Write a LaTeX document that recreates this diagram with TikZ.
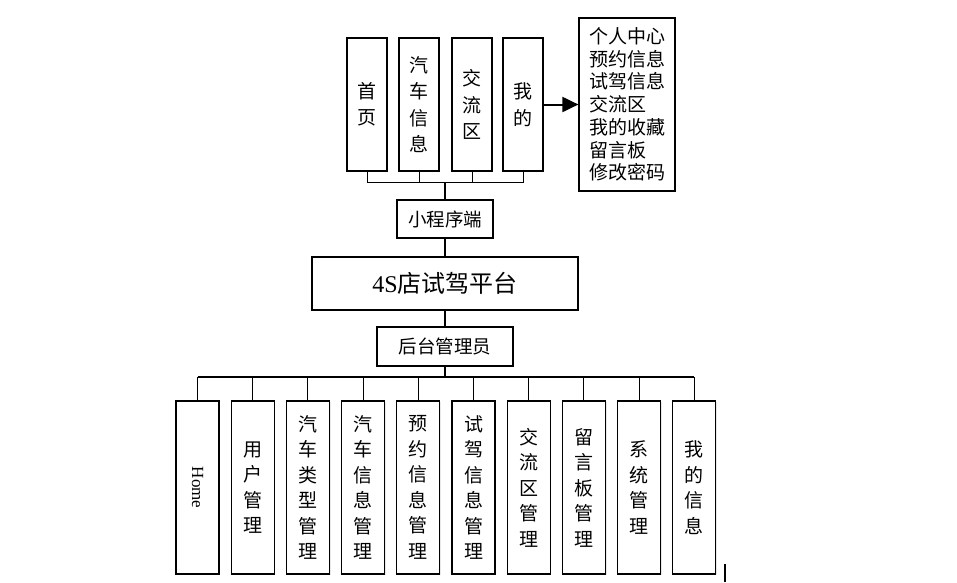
\documentclass[tikz,border=0pt]{standalone}
\usepackage{fontspec}
\setmainfont{Liberation Serif}
\newfontfamily\cjk{Noto Sans CJK SC}
\usetikzlibrary{arrows.meta,shadows}

\begin{document}
\begin{tikzpicture}[x=1pt,y=-1pt,
    box/.style={draw, line width=1.2pt, fill=white, inner sep=0pt, align=center,
        drop shadow={opacity=0.18, shadow xshift=1.2pt, shadow yshift=-1.2pt}},
    topbox/.style={box, minimum width=40pt, minimum height=133pt,
        font=\cjk\fontsize{19}{26.5}\selectfont},
    modbox/.style={box, minimum width=43pt, minimum height=173pt,
        font=\cjk\fontsize{19}{25.5}\selectfont},
    wire/.style={line width=1pt},
    trunk/.style={line width=1.6pt}]
\useasboundingbox (0,0) rectangle (957,582);

% Mini program pages (top row)
\node[topbox] (shouye) at (367,104.5) {首\\页};
\node[topbox] (qiche)  at (419,104.5) {汽\\车\\信\\息};
\node[topbox] (jiaoliu) at (472,104.5) {交\\流\\区};
\node[topbox] (wode)   at (523,104.5) {我\\的};

% Personal centre list
\node[box, minimum width=96pt, minimum height=173pt, align=left,
      font=\cjk\fontsize{19}{22.7}\selectfont] (geren) at (627,104.5)
      {个人中心\\预约信息\\试驾信息\\交流区\\我的收藏\\留言板\\修改密码};
\draw[line width=2pt, -{Triangle[length=16pt,width=15pt]}] (wode.east) -- (geren.west);

% Middle column
\node[box, minimum width=96pt, minimum height=38pt,
      font=\cjk\fontsize{18.5}{22}\selectfont] (mini) at (445,219) {小程序端};
\node[box, minimum width=266pt, minimum height=53pt,
      font=\fontsize{24}{28}\selectfont] (platform) at (445,283.5) {4S{\cjk 店试驾平台}};
\node[box, minimum width=136pt, minimum height=39pt,
      font=\cjk\fontsize{18.5}{22}\selectfont] (admin) at (445,346.5) {后台管理员};

% Top bus
\coordinate (topbus) at (445,182);
\draw[wire] (shouye.south) |- (wode.south |- topbus) -- (wode.south);
\draw[wire] (qiche.south) -- (qiche.south |- topbus);
\draw[wire] (jiaoliu.south) -- (jiaoliu.south |- topbus);
\draw[trunk] (topbus) -- (mini.north);
\draw[trunk] (mini.south) -- (platform.north);
\draw[trunk] (platform.south) -- (admin.north);

% Admin modules (bottom row)
\node[modbox] (m1) at (197.5,487.5) {\rotatebox[origin=c]{-90}{\rmfamily\fontsize{17}{20}\selectfont Home}};
\foreach \i/\t in {2/{用\\户\\管\\理}, 3/{汽\\车\\类\\型\\管\\理}, 4/{汽\\车\\信\\息\\管\\理},
                   5/{预\\约\\信\\息\\管\\理}, 6/{试\\驾\\信\\息\\管\\理}, 7/{交\\流\\区\\管\\理},
                   8/{留\\言\\板\\管\\理}, 9/{系\\统\\管\\理}, 10/{我\\的\\信\\息}}
    \node[modbox] (m\i) at ({197.5+55.2*(\i-1)},487.5) {\t};

% Bottom bus
\coordinate (botbus) at (445,377);
\draw[trunk] (admin.south) -- (botbus);
\draw[trunk] (m1.north |- botbus) -- (m10.north |- botbus);
\foreach \i in {1,...,10}
    \draw[wire] (m\i.north) -- (m\i.north |- botbus);

% Stray mark at the lower edge
\coordinate (markA) at (725,564);
\coordinate (markB) at (725,582);
\draw[line width=1.4pt] (markA) -- (markB);
\end{tikzpicture}
\end{document}
